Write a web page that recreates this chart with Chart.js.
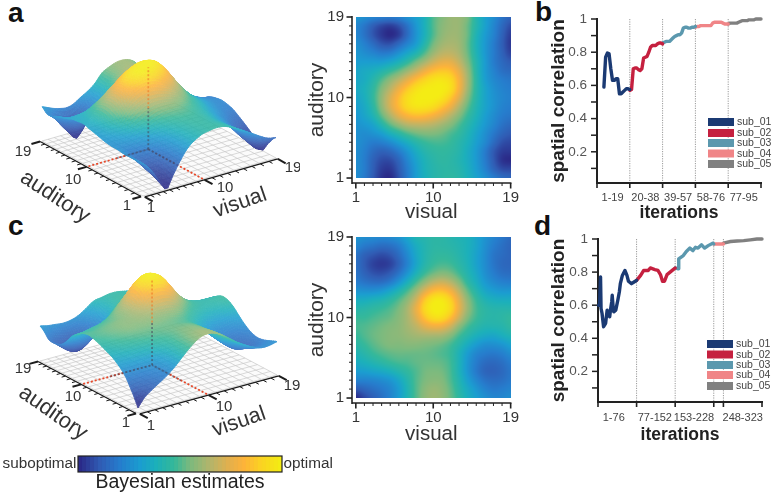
<!DOCTYPE html>
<html><head><meta charset="utf-8">
<script src="https://cdn.jsdelivr.net/npm/chart.js@4"></script>
<style>
html,body{margin:0;padding:0;background:#fff;width:774px;height:494px;overflow:hidden}
canvas{position:absolute}
.L{position:absolute;font:bold 28px "Liberation Sans",Arial,sans-serif;color:#111;line-height:32px}
</style></head><body>
<span class="L" style="left:8px;top:-3px">a</span>
<span class="L" style="left:535px;top:-4px">b</span>
<span class="L" style="left:8px;top:210px">c</span>
<span class="L" style="left:534px;top:210px">d</span>
<script>
// ---------- data ----------
const gridTicks=[1,10,19];
// rows run from auditory=19 down to auditory=1, columns visual=1..19
const estimatesA=[
[.28,.25,.22,.2,.19,.21,.26,.31,.38,.5,.56,.6,.6,.55,.42,.32,.25,.17,.12],
[.23,.18,.11,.06,.04,.08,.17,.28,.38,.5,.57,.6,.6,.53,.42,.32,.23,.14,.07],
[.23,.17,.09,.03,0,.04,.15,.27,.38,.5,.58,.61,.6,.53,.4,.3,.22,.12,.04],
[.26,.21,.15,.09,.08,.14,.22,.3,.42,.54,.61,.63,.61,.52,.39,.29,.2,.11,.03],
[.28,.25,.22,.19,.2,.26,.33,.4,.5,.6,.66,.67,.63,.53,.4,.29,.2,.12,.05],
[.3,.3,.3,.3,.33,.38,.45,.54,.62,.7,.75,.75,.68,.56,.42,.3,.2,.14,.1],
[.33,.35,.37,.41,.46,.52,.6,.68,.77,.84,.87,.85,.75,.6,.43,.3,.22,.16,.14],
[.34,.36,.42,.5,.58,.66,.75,.84,.91,.96,.97,.93,.8,.62,.44,.31,.24,.2,.18],
[.35,.38,.45,.56,.66,.77,.87,.95,.99,1,1,.95,.8,.61,.44,.33,.26,.22,.2],
[.33,.37,.46,.59,.72,.84,.94,.99,1,1,.97,.88,.74,.57,.43,.33,.27,.23,.21],
[.31,.35,.44,.58,.72,.84,.93,.97,.97,.94,.87,.78,.65,.52,.41,.33,.27,.22,.2],
[.29,.33,.4,.52,.64,.75,.82,.85,.84,.8,.74,.66,.57,.47,.39,.31,.25,.2,.18],
[.27,.29,.33,.42,.52,.6,.66,.68,.68,.66,.62,.57,.5,.43,.36,.29,.23,.17,.14],
[.26,.25,.27,.31,.38,.44,.5,.54,.56,.56,.54,.5,.46,.4,.33,.26,.19,.13,.1],
[.26,.23,.2,.21,.25,.31,.37,.43,.47,.49,.49,.47,.43,.38,.31,.24,.15,.08,.06],
[.25,.21,.15,.12,.14,.2,.28,.36,.42,.45,.46,.45,.42,.36,.29,.2,.1,.04,.03],
[.25,.2,.12,.07,.07,.13,.23,.32,.39,.43,.45,.44,.41,.36,.29,.2,.1,.02,0],
[.25,.2,.11,.04,.03,.1,.2,.3,.38,.42,.44,.44,.42,.37,.3,.22,.13,.07,.06],
[.25,.19,.1,.02,0,.08,.19,.3,.37,.42,.44,.45,.43,.38,.32,.26,.2,.15,.13]];
const estimatesC=[
[.27,.25,.24,.23,.24,.27,.33,.4,.42,.44,.44,.42,.4,.38,.33,.27,.22,.18,.14],
[.23,.19,.17,.15,.16,.2,.28,.36,.41,.44,.44,.43,.41,.38,.33,.26,.2,.16,.13],
[.17,.12,.09,.07,.09,.15,.24,.34,.41,.45,.46,.45,.42,.38,.32,.25,.18,.15,.13],
[.16,.1,.05,.03,.05,.12,.22,.33,.42,.47,.49,.48,.44,.39,.32,.25,.18,.14,.13],
[.17,.12,.08,.07,.1,.17,.27,.38,.47,.53,.56,.54,.48,.41,.34,.26,.2,.16,.15],
[.2,.17,.15,.15,.19,.27,.37,.48,.58,.66,.69,.65,.56,.45,.37,.29,.24,.21,.2],
[.27,.26,.26,.28,.33,.4,.49,.6,.73,.83,.85,.79,.66,.52,.42,.34,.3,.28,.28],
[.36,.36,.38,.4,.44,.5,.58,.7,.87,.97,.98,.9,.74,.58,.47,.4,.37,.36,.36],
[.42,.43,.45,.47,.5,.55,.63,.76,.92,1,1,.93,.76,.6,.49,.44,.42,.42,.42],
[.47,.47,.49,.51,.53,.57,.63,.73,.86,.94,.94,.85,.7,.56,.48,.44,.43,.44,.46],
[.49,.5,.52,.54,.56,.58,.62,.67,.74,.78,.77,.7,.58,.49,.44,.41,.41,.42,.45],
[.47,.5,.53,.55,.57,.58,.6,.62,.63,.63,.62,.57,.49,.43,.38,.35,.34,.37,.4],
[.44,.47,.51,.54,.56,.56,.57,.57,.56,.55,.53,.49,.43,.36,.3,.26,.26,.28,.32],
[.4,.43,.47,.5,.52,.53,.53,.53,.53,.52,.5,.47,.39,.3,.23,.2,.19,.21,.25],
[.36,.38,.41,.44,.47,.49,.5,.52,.53,.53,.52,.48,.39,.28,.2,.15,.14,.16,.2],
[.3,.31,.33,.35,.38,.42,.46,.5,.54,.55,.54,.49,.39,.28,.19,.13,.12,.14,.18],
[.22,.22,.23,.25,.28,.34,.42,.5,.55,.57,.56,.5,.41,.31,.23,.17,.15,.16,.19],
[.1,.13,.16,.19,.23,.3,.4,.5,.57,.6,.58,.52,.43,.35,.28,.22,.19,.2,.22],
[0,.06,.11,.16,.22,.3,.4,.5,.58,.61,.59,.53,.45,.37,.31,.26,.23,.23,.25]];

const subjects=['sub_01','sub_02','sub_03','sub_04','sub_05'];
const subColors=['#1b3a73','#c5203f','#5b98ae','#f08587','#808080'];
const yTickValues=[.2,.4,.6,.8,1];

const bLabels=['1-19','20-38','39-57','58-76','77-95'];
const bBounds=[19,38,57,76,95];
const bMids=[9,28,47,66,85];
const bIter01=[4,5,6,7,8,9,10,11,12,13,14,15,16,17,18,19];
const bVal01=[.59,.77,.795,.79,.7,.63,.63,.64,.64,.55,.55,.56,.57,.58,.58,.575];
const bIter02=[19,20,21,22,23,24,25,26,27,28,29,30,31,32,33,34,35,36,37,38];
const bVal02=[.57,.575,.7,.705,.705,.695,.69,.7,.765,.77,.775,.8,.83,.84,.84,.84,.85,.855,.855,.85];
const bIter03=[38,39,40,41,42,43,44,45,46,47,48,49,50,51,52,53,54,55,56,57];
const bVal03=[.855,.86,.865,.865,.865,.875,.885,.895,.9,.905,.905,.915,.945,.95,.95,.945,.945,.95,.95,.955];
const bIter04=[57,58,59,60,61,62,63,64,65,66,67,68,69,70,71,72,73,74,75,76];
const bVal04=[.95,.955,.955,.96,.96,.96,.96,.96,.96,.96,.975,.98,.98,.98,.98,.98,.975,.97,.97,.97];
const bIter05=[76,77,78,79,80,81,82,83,84,85,86,87,88,89,90,91,92,93,94,95];
const bVal05=[.97,.975,.975,.975,.975,.975,.98,.985,.99,.99,.99,.99,.995,.995,.995,.995,1,1,1,1];

const dLabels=['1-76','77-152','153-228','248-323'];
const dBounds=[76,152,228,247,323];
const dMids=[31,112,189,285];
const dIter01=[1,3,5,6,8,11,15,18,20,23,25,27,28,30,31,35,39,42,44,48,53,57,60,66,71,76];
const dVal01=[.6,.6,.77,.58,.55,.47,.49,.57,.55,.53,.58,.62,.66,.58,.56,.57,.63,.68,.73,.78,.81,.78,.745,.73,.74,.75];
const dIter02=[76,84,90,99,103,112,118,123,127,131,136,142,148,152];
const dVal02=[.75,.78,.81,.81,.825,.815,.81,.785,.745,.745,.785,.8,.815,.825];
const dIter03=[152,158,159,168,174,181,187,192,197,204,210,217,226,228];
const dVal03=[.825,.82,.88,.9,.925,.945,.93,.95,.945,.965,.945,.96,.975,.97];
const dIter04=[228,238,247];
const dVal04=[.97,.97,.97];
const dIter05=[247,261,274,287,300,313,323];
const dVal05=[.975,.985,.988,.99,.995,1,1];

const colorbarSteps=[0,.02,.04,.06,.08,.1,.12,.14,.16,.18,.2,.22,.24,.26,.28,.3,.32,.34,.36,.38,.4,.42,.44,.46,.48,.5,.52,.54,.56,.58,.6,.62,.64,.66,.68,.7,.72,.74,.76,.78,.8,.82,.84,.86,.88,.9,.92,.94,.96,.98,1];

// ---------- helpers ----------
const FONT='"Liberation Sans",Arial,sans-serif';
const CMAP=[[0,43,42,136],[.1,48,92,180],[.2,38,125,205],[.3,27,157,208],[.38,28,176,186],[.47,53,184,154],
[.55,124,186,126],[.65,180,181,108],[.75,229,176,76],[.82,253,179,58],[.9,251,209,36],[1,244,236,20]];
function rgbOf(t){t=Math.max(0,Math.min(1,t));
  for(let i=1;i<CMAP.length;i++){if(t<=CMAP[i][0]){const a=CMAP[i-1],b=CMAP[i],f=(t-a[0])/(b[0]-a[0]);
    return [a[1]+f*(b[1]-a[1]),a[2]+f*(b[2]-a[2]),a[3]+f*(b[3]-a[3])];}}
  return CMAP[CMAP.length-1].slice(1);}
const css=c=>`rgb(${c[0]|0},${c[1]|0},${c[2]|0})`;
function cr(p0,p1,p2,p3,t){return .5*(2*p1+(p2-p0)*t+(2*p0-5*p1+4*p2-p3)*t*t+(3*p1-p0-3*p2+p3)*t*t*t);}
function sample(grid,v,a){ // v,a in 1..19
  const at=(i,j)=>grid[18-Math.max(0,Math.min(18,j))][Math.max(0,Math.min(18,i))];
  const x=v-1,y=a-1,i=Math.min(17,Math.floor(x)),j=Math.min(17,Math.floor(y)),tx=x-i,ty=y-j,r=[];
  for(let k=-1;k<3;k++)r.push(cr(at(i-1,j+k),at(i,j+k),at(i+1,j+k),at(i+2,j+k),tx));
  return cr(r[0],r[1],r[2],r[3],ty);}
const gridPoints=g=>{const o=[];g.forEach((row,r)=>row.forEach((val,c)=>o.push({x:c+1,y:19-r,v:val})));return o;};
function mk(left,top,w,h){const c=document.createElement('canvas');c.width=w;c.height=h;
  c.style.cssText=`left:${left}px;top:${top}px;width:${w}px;height:${h}px`;document.body.appendChild(c);return c;}
const base={responsive:false,animation:false,devicePixelRatio:1,plugins:{legend:{display:false},tooltip:{enabled:false}}};
function line(ctx,x0,y0,x1,y1,w,col,dash){ctx.save();ctx.beginPath();ctx.lineWidth=w;ctx.strokeStyle=col;if(dash)ctx.setLineDash(dash);
  ctx.moveTo(x0,y0);ctx.lineTo(x1,y1);ctx.stroke();ctx.restore();}
const noGrid={display:false,drawTicks:false};

// ---------- heat maps ----------
function heat(left,top,h,xH,grid){
  const smooth={id:'smooth',afterDatasetsDraw(ch){
    const {x:xs,y:ys}=ch.scales,ctx=ch.ctx;
    const x0=Math.round(xs.getPixelForValue(1)),x1=Math.round(xs.getPixelForValue(19));
    const y0=Math.round(ys.getPixelForValue(19)),y1=Math.round(ys.getPixelForValue(1));
    const W=x1-x0,H=y1-y0,img=ctx.createImageData(W,H);
    for(let py=0;py<H;py++)for(let px=0;px<W;px++){
      const c=rgbOf(sample(grid,xs.getValueForPixel(x0+px+.5),ys.getValueForPixel(y0+py+.5)));
      const k=(py*W+px)*4;img.data[k]=c[0];img.data[k+1]=c[1];img.data[k+2]=c[2];img.data[k+3]=255;}
    ctx.putImageData(img,x0,y0);
    const a=ch.chartArea,col='#222';
    line(ctx,a.left,a.top-1,a.left,a.bottom+1,1.6,col);
    line(ctx,a.left,a.bottom,a.right+.8,a.bottom,1.6,col);
    for(let t=1;t<=19;t++){const maj=gridTicks.includes(t),l=maj?5.5:3,w=maj?1.6:1;
      const px=xs.getPixelForValue(t),py=ys.getPixelForValue(t);
      line(ctx,px,a.bottom,px,a.bottom+l,w,col);
      line(ctx,a.left-l,py,a.left,py,w,col);}
  }};
  const lab=(v)=>gridTicks.includes(v)?String(v):'';
  const setT=s=>{s.ticks=gridTicks.map(value=>({value}));};
  new Chart(mk(left,top,225,h),{type:'scatter',
    data:{datasets:[{data:gridPoints(grid),pointRadius:0}]},
    options:{...base,layout:{autoPadding:false,padding:{left:0,right:6,top:16,bottom:0}},
      scales:{
        x:{type:'linear',min:.556,max:19,afterBuildTicks:setT,afterFit:s=>{s.height=xH;},grid:noGrid,border:{display:false},
          ticks:{callback:lab,maxRotation:0,autoSkip:false,padding:6,color:'#333',font:{family:FONT,size:15}},
          title:{display:true,text:'visual',color:'#333',font:{family:FONT,size:20.5},padding:0}},
        y:{type:'linear',min:.444,max:19,afterBuildTicks:setT,afterFit:s=>{s.width=52;},grid:noGrid,border:{display:false},
          ticks:{callback:lab,autoSkip:false,padding:8,color:'#333',font:{family:FONT,size:15}},
          title:{display:true,text:'auditory',color:'#333',font:{family:FONT,size:21},padding:{top:5,bottom:0}}}
      }},plugins:[smooth]});
}
heat(300,0,225,42,estimatesA);
heat(300,220,227,44,estimatesC);

// ---------- 3D surfaces ----------
function surface(top,h,grid,g){
  const warp=(t,m)=>t+4*(m-.5)*t*(1-t);
  const proj=(v,a,z)=>{const u=warp((v-1)/18,g.mv),w=warp((a-1)/18,g.ma);
    return {x:g.F[0]+u*(g.R[0]-g.F[0])+w*(g.L[0]-g.F[0]),y:g.F[1]+u*(g.R[1]-g.F[1])+w*(g.L[1]-g.F[1])-z};};
  const height=val=>g.z0+Math.pow(Math.max(0,val),g.g)*g.zs;
  const draw={id:'surface3d',afterDatasetsDraw(ch){
    const {x:xs,y:ys}=ch.scales,ctx=ch.ctx;
    const P=(v,a,z=0)=>{const p=proj(v,a,z);return [xs.getPixelForValue(p.x),ys.getPixelForValue(p.y)];};
    // floor
    ctx.beginPath();[[1,1],[19,1],[19,19],[1,19]].forEach((c,i)=>{const p=P(c[0],c[1]);i?ctx.lineTo(p[0],p[1]):ctx.moveTo(p[0],p[1]);});
    ctx.closePath();ctx.fillStyle='#fbfbfb';ctx.fill();
    for(let t=1;t<=19;t++){let a=P(t,1),b=P(t,19);line(ctx,a[0],a[1],b[0],b[1],.7,'#c9c9c9');
      a=P(1,t);b=P(19,t);line(ctx,a[0],a[1],b[0],b[1],.7,'#c9c9c9');}
    // red guides
    let a=P(1,10),b=P(10,10);line(ctx,a[0],a[1],b[0],b[1],1.8,'#e8492a',[2,2]);
    a=P(10,1);line(ctx,a[0],a[1],b[0],b[1],1.8,'#e8492a',[2,2]);
    // surface, painted from back to front on its own layer
    const off=document.createElement('canvas');off.width=ch.width;off.height=ch.height;const o=off.getContext('2d');
    const n=4,step=1/n,quads=[];
    for(let i=0;i<18*n;i++)for(let j=0;j<18*n;j++)quads.push([1+i*step,1+j*step]);
    quads.sort((p,q)=>(q[0]+q[1])-(p[0]+p[1]));
    o.lineWidth=.9;o.lineJoin='round';
    for(const [v,aa] of quads){
      const pts=[[v,aa],[v+step,aa],[v+step,aa+step],[v,aa+step]];
      o.beginPath();pts.forEach((c,i)=>{const p=P(c[0],c[1],height(sample(grid,c[0],c[1])));i?o.lineTo(p[0],p[1]):o.moveTo(p[0],p[1]);});
      o.closePath();const col=css(rgbOf(sample(grid,v+step/2,aa+step/2)));o.fillStyle=col;o.strokeStyle=col;o.fill();o.stroke();}
    ctx.save();ctx.globalAlpha=.87;ctx.drawImage(off,0,0);ctx.restore();
    // guides seen through the surface
    const C=P(10,10);const dk='rgba(70,70,90,.55)';
    a=P(g.gv,10);line(ctx,a[0],a[1],C[0],C[1],1.8,dk,[2,2]);
    a=P(10,g.ga);line(ctx,a[0],a[1],C[0],C[1],1.8,dk,[2,2]);
    const top=P(10,10,height(g.peak)),mid=P(10,10,height(g.peak)*.5);
    line(ctx,C[0],C[1],mid[0],mid[1],1.8,dk,[2,2]);
    line(ctx,mid[0],mid[1],top[0],top[1],1.8,'rgba(238,120,40,.6)',[2,2]);
    // axes
    const col='#1c1c1c',dL=[g.F[0]-g.R[0],g.F[1]-g.R[1]],dR=[g.F[0]-g.L[0],g.F[1]-g.L[1]];
    const nl=d=>{const m=Math.hypot(d[0],d[1]);return [d[0]/m,d[1]/m];};
    const uL=nl(dL),uR=nl(dR);
    a=P(1,1);b=P(1,19);line(ctx,a[0]+uL[0]*2,a[1]+uL[1]*2,b[0]+uL[0]*2,b[1]+uL[1]*2,1.3,col);
    a=P(1,1);b=P(19,1);line(ctx,a[0]+uR[0]*2,a[1]+uR[1]*2,b[0]+uR[0]*2,b[1]+uR[1]*2,1.3,col);
    for(let t=1;t<=19;t++){const maj=gridTicks.includes(t),l=maj?9:4,w=maj?2:1;
      let p=P(1,t);line(ctx,p[0]+uL[0]*2,p[1]+uL[1]*2,p[0]+uL[0]*(2+l),p[1]+uL[1]*(2+l),w,col);
      p=P(t,1);line(ctx,p[0]+uR[0]*2,p[1]+uR[1]*2,p[0]+uR[0]*(2+l),p[1]+uR[1]*(2+l),w,col);}
    // labels
    ctx.fillStyle='#333';ctx.textAlign='center';ctx.textBaseline='middle';ctx.font='15px '+FONT;
    const T=(s,q)=>ctx.fillText(s,xs.getPixelForValue(q[0]),ys.getPixelForValue(q[1]));
    T('19',g.t.a19);T('10',g.t.a10);T('1',g.t.a1);T('1',g.t.v1);T('10',g.t.v10);T('19',g.t.v19);
    const R=(s,q,ang,sz)=>{ctx.save();ctx.font=sz+'px '+FONT;ctx.translate(xs.getPixelForValue(q[0]),ys.getPixelForValue(q[1]));ctx.rotate(ang*Math.PI/180);ctx.fillText(s,0,0);ctx.restore();};
    R('auditory',g.t.aud,g.t.audA,22);R('visual',g.t.vis,g.t.visA,21.5);
  }};
  const pts=gridPoints(grid).map(p=>{const q=proj(p.x,p.y,height(p.v));return {x:q.x,y:q.y};});
  new Chart(mk(0,top,300,h),{type:'scatter',data:{datasets:[{data:pts,pointRadius:0}]},
    options:{...base,layout:{autoPadding:false,padding:0},scales:{
      x:{type:'linear',min:0,max:300,display:false},
      y:{type:'linear',min:0,max:h,reverse:true,display:false}}},plugins:[draw]});
}
surface(0,225,estimatesA,{F:[143,196],R:[276,158],L:[42,141],mv:.45,ma:.54,z0:1,zs:81,g:.7,gv:5.5,ga:5.5,peak:1,
  t:{a19:[23,152],a10:[73,180],a1:[127,206],v1:[151,208],v10:[225,188],v19:[293,168],aud:[55,197],audA:33,vis:[240,203],visA:-19}});
surface(215,235,estimatesC,{F:[138,198],R:[277,160],L:[40,146],mv:.496,ma:.56,z0:5,zs:80,g:.75,gv:4.5,ga:5,peak:1,
  t:{a19:[23,154],a10:[73,182],a1:[126,208],v1:[151,211],v10:[224,192],v19:[292,171],aud:[53,198],audA:35,vis:[239,207],visA:-19}});

// ---------- spatial-correlation panels ----------
function corr(left,top,h,cfg){
  const deco={id:'deco',beforeDatasetsDraw(ch){
    const {x:xs,y:ys}=ch.scales,ctx=ch.ctx,a=ch.chartArea,col='#222';
    cfg.bounds.forEach(b=>{const px=xs.getPixelForValue(b);if(b<cfg.bounds[cfg.bounds.length-1])line(ctx,px,a.top,px,a.bottom,1,'#9a9a9a',[1.2,1.2]);});
    line(ctx,a.left,a.top-1,a.left,a.bottom+1,2,col);
    line(ctx,a.left,a.bottom,a.right+1,a.bottom,2,col);
    line(ctx,xs.getPixelForValue(0),a.bottom,xs.getPixelForValue(0),a.bottom+5,1.6,col);
    cfg.bounds.forEach(b=>{const px=xs.getPixelForValue(b);line(ctx,px,a.bottom,px,a.bottom+5,1.6,col);});
    for(let t=1;t<=10;t++){const py=ys.getPixelForValue(t/10);line(ctx,a.left-6,py,a.left,py,1.5,col);}
  },afterDatasetsDraw(ch){
    const ctx=ch.ctx;ctx.save();ctx.font='10.5px '+FONT;ctx.textBaseline='middle';ctx.textAlign='left';
    ch.data.datasets.forEach((d,i)=>{const y=cfg.legY[i]-top;
      ctx.fillStyle=d.borderColor;ctx.fillRect(cfg.legX-left,y-4,26,8);
      ctx.fillStyle='#444';ctx.fillText(d.label,cfg.legX-left+29,y+.5);});
    ctx.restore();
  }};
  const ds=cfg.series.map((s,i)=>({label:subjects[i],data:s[0].map((x,k)=>({x,y:s[1][k]})),showLine:true,pointRadius:0,
    borderColor:subColors[i],backgroundColor:subColors[i],borderWidth:3.4,borderJoinStyle:'round',borderCapStyle:'round',clip:false}));
  new Chart(mk(left,top,244,h),{type:'scatter',data:{datasets:ds},
    options:{...base,layout:{autoPadding:false,padding:{left:0,right:cfg.right,top:19,bottom:0}},
      scales:{
        x:{type:'linear',min:0,max:cfg.max,afterBuildTicks:s=>{s.ticks=cfg.mids.map(value=>({value}));},afterFit:s=>{s.height=cfg.xH;},
          grid:noGrid,border:{display:false},
          ticks:{callback:(v,i)=>cfg.labels[i],autoSkip:false,maxRotation:0,padding:cfg.tp,color:'#444',font:{family:FONT,size:11}},
          title:{display:true,text:'iterations',color:'#222',font:{family:FONT,size:17.5,weight:'bold'},padding:0}},
        y:{type:'linear',min:cfg.ymin,max:1,afterBuildTicks:s=>{s.ticks=yTickValues.map(value=>({value}));},afterFit:s=>{s.width=cfg.yW;},
          grid:noGrid,border:{display:false},
          ticks:{callback:v=>String(v),autoSkip:false,padding:10,color:'#555',font:{family:FONT,size:13.5}},
          title:{display:true,text:'spatial correlation',color:'#222',font:{family:FONT,size:19,weight:'bold'},padding:{top:17,bottom:0}}}
      }},plugins:[deco]});
}
corr(530,0,224,{max:95,labels:bLabels,mids:bMids,bounds:bBounds,xH:41,yW:67,right:13,tp:8,ymin:.012,
  series:[[bIter01,bVal01],[bIter02,bVal02],[bIter03,bVal03],[bIter04,bVal04],[bIter05,bVal05]],legX:708,legY:[122,133,143,153.5,164]});
corr(530,220,226,{max:323,labels:dLabels,mids:dMids,bounds:dBounds,xH:44,yW:68,right:12,tp:9,ymin:.015,
  series:[[dIter01,dVal01],[dIter02,dVal02],[dIter03,dVal03],[dIter04,dVal04],[dIter05,dVal05]],legX:707,legY:[344,354.5,365,375,386]});

// ---------- colour bar ----------
const frame={id:'frame',afterDatasetsDraw(ch){const a=ch.chartArea,ctx=ch.ctx;
  ctx.save();ctx.strokeStyle='#222';ctx.lineWidth=1.2;ctx.strokeRect(a.left,a.top,a.right-a.left,a.bottom-a.top);
  ctx.fillStyle='#333';ctx.font='15.3px '+FONT;ctx.textBaseline='middle';
  ctx.textAlign='right';ctx.fillText('suboptimal',a.left-1.5,(a.top+a.bottom)/2);
  ctx.textAlign='left';ctx.fillText('optimal',a.right+1.5,(a.top+a.bottom)/2);ctx.restore();}};
new Chart(mk(0,450,340,44),{type:'bar',data:{labels:colorbarSteps.map(String),datasets:[{data:colorbarSteps.map(()=>1),
    backgroundColor:colorbarSteps.map(t=>css(rgbOf(t))),borderColor:colorbarSteps.map(t=>css(rgbOf(t))),borderWidth:1,barPercentage:1,categoryPercentage:1}]},
  options:{...base,layout:{autoPadding:false,padding:{left:78,right:58,top:6,bottom:0}},scales:{
    x:{afterFit:s=>{s.height=22;},grid:noGrid,border:{display:false},ticks:{display:false},
      title:{display:true,text:'Bayesian estimates',color:'#222',font:{family:FONT,size:19.5},padding:0}},
    y:{min:0,max:1,display:false}}},plugins:[frame]});
</script></body></html>
